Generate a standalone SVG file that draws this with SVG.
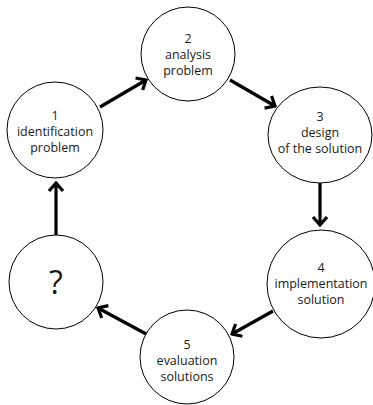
<svg xmlns="http://www.w3.org/2000/svg" width="373" height="405" viewBox="0 0 373 405">
<defs>
<style>
.node{fill:#fff;stroke:#000;stroke-width:1}
.t{font-family:"Open Sans","DejaVu Sans",sans-serif;font-size:12.5px;fill:#1a1a1a;text-anchor:middle}
.q{font-family:"Open Sans","DejaVu Sans",sans-serif;font-size:32px;fill:#1a1a1a;text-anchor:middle}
.edge{stroke:#000;stroke-width:3.2;fill:none}
</style>
<marker id="ah" markerUnits="userSpaceOnUse" viewBox="-12 -10 14 20" refX="0" refY="0" markerWidth="14" markerHeight="20" orient="auto">
<path d="M-8,-7 L0,0 L-8,7" fill="none" stroke="#000" stroke-width="3.2"/>
</marker>
</defs>
<rect width="373" height="405" fill="#fff"/>
<g id="connectors">
<line class="edge" x1="100" y1="107" x2="146" y2="80" marker-end="url(#ah)"/>
<line class="edge" x1="230" y1="80" x2="275" y2="106" marker-end="url(#ah)"/>
<line class="edge" x1="320" y1="183" x2="320" y2="225" marker-end="url(#ah)"/>
<line class="edge" x1="273" y1="311" x2="232" y2="334" marker-end="url(#ah)"/>
<line class="edge" x1="148" y1="335" x2="98" y2="308" marker-end="url(#ah)"/>
<line class="edge" x1="56" y1="235" x2="56" y2="183" marker-end="url(#ah)"/>
</g>
<g id="n1">
<circle class="node" cx="55" cy="130" r="48"/>
<text class="t" x="55" y="120">1</text>
<text class="t" x="55" y="136">identification</text>
<text class="t" x="55" y="152">problem</text>
</g>
<g id="n2">
<circle class="node" cx="188" cy="54" r="47"/>
<text class="t" x="188" y="43">2</text>
<text class="t" x="188" y="59">analysis</text>
<text class="t" x="188" y="75">problem</text>
</g>
<g id="n3">
<ellipse class="node" cx="320" cy="135" rx="52" ry="48"/>
<text class="t" x="320" y="121">3</text>
<text class="t" x="320" y="137">design</text>
<text class="t" x="320" y="153">of the solution</text>
</g>
<g id="n4">
<circle class="node" cx="321" cy="284" r="54"/>
<text class="t" x="321" y="272">4</text>
<text class="t" x="321" y="288">implementation</text>
<text class="t" x="321" y="304">solution</text>
</g>
<g id="n5">
<circle class="node" cx="187" cy="357" r="47"/>
<text class="t" x="187" y="349">5</text>
<text class="t" x="187" y="365">evaluation</text>
<text class="t" x="187" y="381">solutions</text>
</g>
<g id="n6">
<circle class="node" cx="56" cy="282" r="47"/>
<text class="q" x="56" y="294">?</text>
</g>
</svg>
